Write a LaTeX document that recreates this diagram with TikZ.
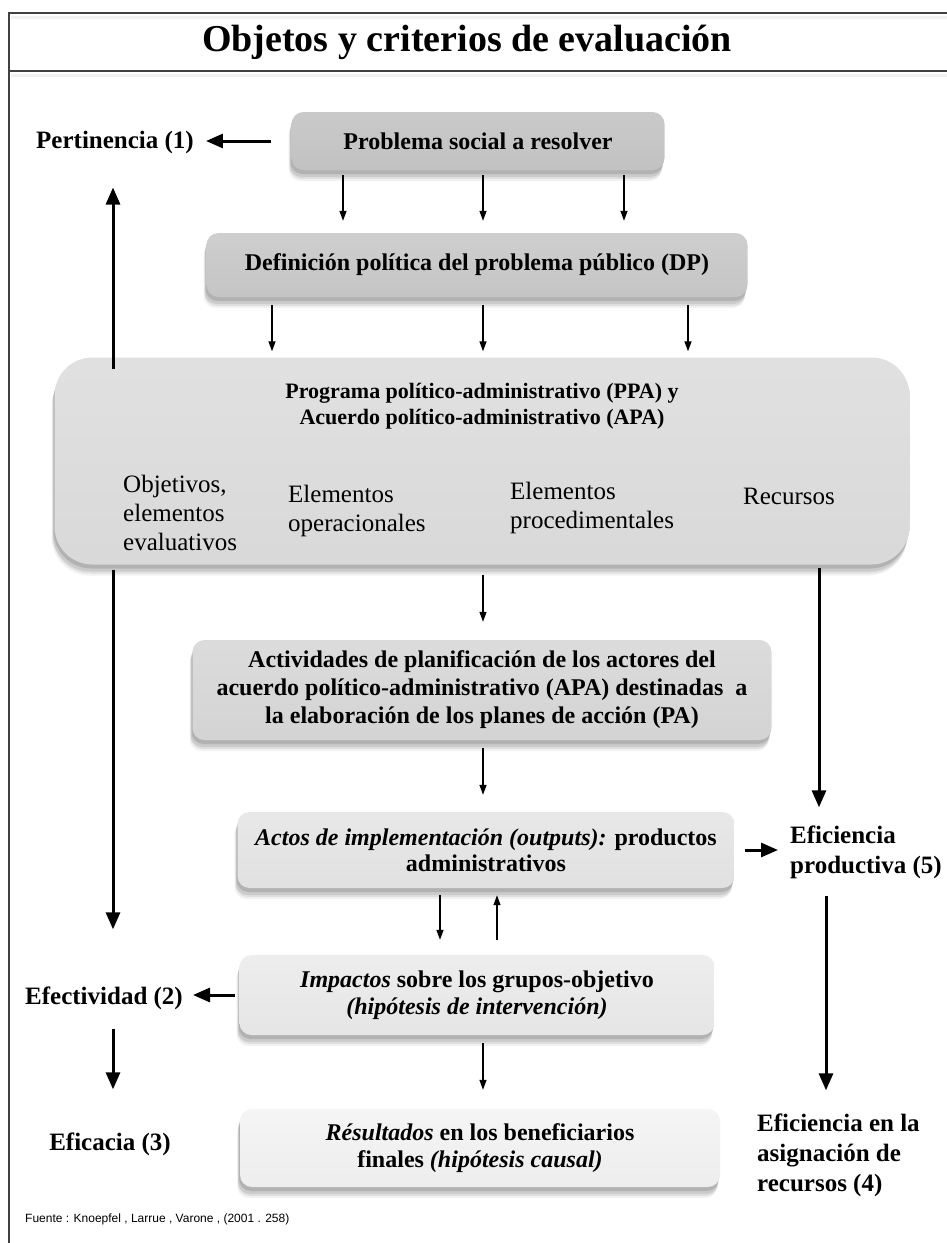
\documentclass[tikz,border=0pt]{standalone}
\usepackage{fontspec}
\setmainfont{Liberation Serif}
\setsansfont{Liberation Sans}
\usetikzlibrary{arrows.meta,shadows,calc}
\begin{document}
\begin{tikzpicture}[x=1pt,y=-1pt]
\tikzset{
  tarrow/.style={line width=1.3pt, -{Triangle[length=10pt,width=7pt]}},
  barrow/.style={line width=3pt, -{Triangle[length=17pt,width=14pt]}},
  box/.style={rounded corners=12pt, align=center, inner sep=0pt,
     font=\bfseries\fontsize{24}{28}\selectfont,
     general shadow={shadow xshift=-3pt, shadow yshift=-11pt, fill=black, opacity=0.05},
     general shadow={shadow xshift=-2pt, shadow yshift=-9pt, fill=black, opacity=0.07},
     general shadow={shadow xshift=-2pt, shadow yshift=-7pt, fill=black, opacity=0.09},
     general shadow={shadow xshift=-1pt, shadow yshift=-4pt, fill=black, opacity=0.12}},
  lbl/.style={font=\bfseries\fontsize{25}{30}\selectfont, inner sep=0pt, align=left},
  sub/.style={font=\fontsize{25}{29}\selectfont, align=left, inner sep=0pt, anchor=west},
  frame/.style={line width=2pt, black!75},
}
\useasboundingbox (0,0) rectangle (947,1243);
\fill[white] (0,0) rectangle (947,1243);
% frame
\draw[frame] (9,1243) -- (9,13) -- (947,13);
\draw[frame] (9,71) -- (947,71);
\draw[black!6, line width=3pt] (11,17) -- (947,17);
\draw[black!6, line width=3pt] (11,75) -- (947,75);
\node[font=\bfseries\fontsize{38}{42}\selectfont, inner sep=0pt] (title) at (467,42) {Objetos y criterios de evaluación};

% boxes
\node[box, top color=black!21, bottom color=black!24, minimum width=373pt, minimum height=58pt] (b1) at (478,141) {Problema social a resolver};
\node[box, top color=black!19, bottom color=black!23, minimum width=541pt, minimum height=64pt] (b2) at (477,265) {Definición política del problema público (DP)};
\node[box, rounded corners=38pt, top color=black!12, bottom color=black!15, minimum width=855pt, minimum height=207pt] (b3) at (482,461) {};
\node[font=\bfseries\fontsize{22}{26}\selectfont, align=center, inner sep=0pt] (t3) at (482,406) {Programa político-administrativo (PPA) y\\Acuerdo político-administrativo (APA)};
\node[sub] (s1) at (123,513) {Objetivos,\\elementos\\evaluativos};
\node[sub] (s2) at (288,511) {Elementos\\operacionales};
\node[sub] (s3) at (510,508) {Elementos\\procedimentales};
\node[sub] (s4) at (743,496) {Recursos};
\node[box, top color=black!14, bottom color=black!17, minimum width=579pt, minimum height=100pt] (b4) at (482,690) {Actividades de planificación de los actores del\\acuerdo político-administrativo (APA) destinadas\ \ a\\la elaboración de los planes de acción (PA)};
\node[box, top color=black!9, bottom color=black!12, minimum width=497pt, minimum height=76pt, font=\bfseries\fontsize{24}{26}\selectfont] (b5) at (486,850) {\textit{Actos de implementación (outputs):} productos\\administrativos};
\node[box, top color=black!7, bottom color=black!10, minimum width=475pt, minimum height=80pt, font=\bfseries\fontsize{24}{27}\selectfont] (b6) at (477,995) {\textit{Impactos} sobre los grupos-objetivo\\\textit{(hipótesis de intervención)}};
\node[box, top color=black!4, bottom color=black!7, minimum width=480pt, minimum height=78pt, font=\bfseries\fontsize{24}{27}\selectfont] (b7) at (480,1148) {\textit{Résultados} en los beneficiarios\\finales \textit{(hipótesis causal)}};

% criteria labels
\node[lbl] (pert) at (115,142) {Pertinencia (1)};
\node[lbl] (efect) at (104,998) {Efectividad (2)};
\node[lbl] (efic) at (110,1144) {Eficacia (3)};
\node[lbl, anchor=west] (efprod) at (790,852) {Eficiencia\\productiva (5)};
\node[lbl, anchor=west] (efasig) at (757,1155) {Eficiencia en la\\asignación de\\recursos (4)};

\node[font=\sffamily\fontsize{12}{14}\selectfont, anchor=west, inner sep=0pt] (src) at (25,1219) {Fuente : Knoepfel , Larrue , Varone , (2001 . 258)};

% x positions
\coordinate (xa) at (343,0);
\coordinate (xb) at (483,0);
\coordinate (xc) at (624,0);
\coordinate (xd) at (272,0);
\coordinate (xe) at (688,0);
\coordinate (xl) at (113,0);
\coordinate (xr) at (819,0);
\coordinate (xr2) at (826,0);
\coordinate (xu) at (440,0);
\coordinate (xv) at (497,0);

% arrows
\draw[barrow, shorten <=20pt, shorten >=12pt] (b1.west) -- (b1.west -| pert.east);
\foreach \c in {xa,xb,xc}
  \draw[tarrow, shorten <=5pt, shorten >=12pt] (\c |- b1.south) -- (\c |- b2.north);
\foreach \c in {xd,xb,xe}
  \draw[tarrow, shorten <=8pt, shorten >=6pt] (\c |- b2.south) -- (\c |- b3.north);
\draw[barrow, shorten <=-12pt, shorten >=34pt] (xl |- b3.north) -- (xl |- pert.south);
\draw[barrow, shorten <=5pt, shorten >=57pt] (xl |- b3.south) -- (xl |- efect.north);
\draw[tarrow, shorten <=10pt, shorten >=18pt] (xb |- b3.south) -- (xb |- b4.north);
\draw[barrow, shorten <=3pt, shorten >=18pt] (xr |- b3.south) -- (xr |- efprod.north);
\draw[tarrow, shorten <=8pt, shorten >=17pt] (xb |- b4.south) -- (xb |- b5.north);
\draw[barrow, shorten <=10pt, shorten >=12pt] (b5.east) -- (b5.east -| efprod.west);
\draw[tarrow, shorten <=7pt, shorten >=15pt] (xu |- b5.south) -- (xu |- b6.north);
\draw[tarrow, shorten <=15pt, shorten >=7pt] (xv |- b6.north) -- (xv |- b5.south);
\draw[barrow, shorten <=17pt, shorten >=23pt] (xr2 |- efprod.south) -- (xr2 |- efasig.north);
\draw[barrow, shorten <=4pt, shorten >=10pt] (b6.west) -- (b6.west -| efect.east);
\draw[tarrow, shorten <=8pt, shorten >=19pt] (xb |- b6.south) -- (xb |- b7.north);
\draw[barrow, shorten <=19pt, shorten >=43pt] (xl |- efect.south) -- (xl |- efic.north);
\end{tikzpicture}
\end{document}
